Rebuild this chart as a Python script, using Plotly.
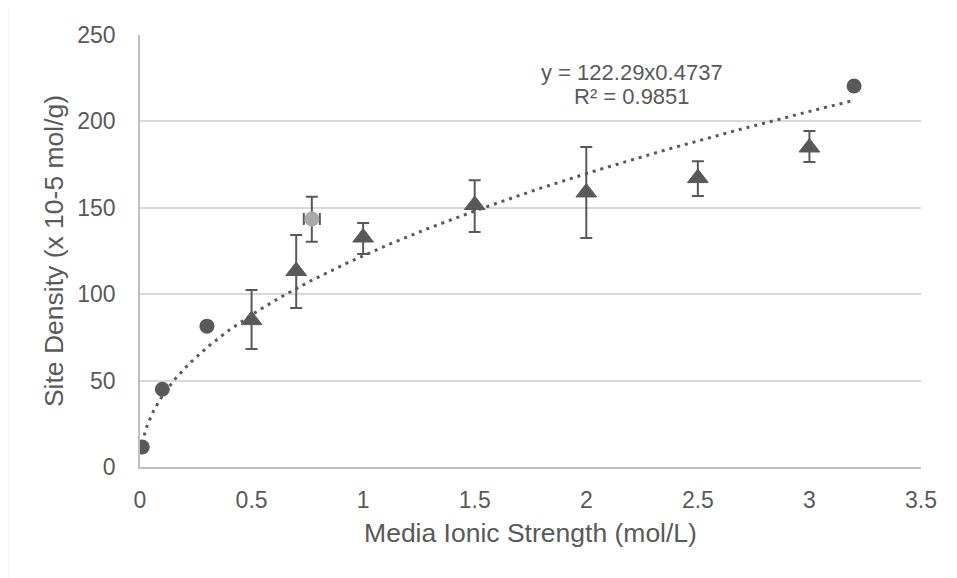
import numpy as np
import plotly.graph_objects as go

# Circle series (single measurements)
circ_x = [0.01, 0.1, 0.3, 3.2]
circ_y = [11.6, 45, 81.5, 220.5]

# Light grey point with x/y error bars
grey_x = [0.77]
grey_y = [143.5]
grey_y_hi = [156.4]
grey_y_lo = [130.4]
grey_xerr = [0.036]

# Triangle series with asymmetric error bars
tri_x = [0.5, 0.7, 1.0, 1.5, 2.0, 2.5, 3.0]
tri_y = [85, 113.4, 132.8, 151.6, 158.9, 167.2, 184.9]
tri_hi = [102.4, 134.3, 141.2, 166, 185.2, 177, 194.4]
tri_lo = [68.3, 92, 123.3, 136, 132.5, 156.8, 176.5]

# Power trendline coefficients (as printed on the chart)
fit_a = 122.29
fit_b = 0.4737
fit_r2 = 0.9851
fit_xmin, fit_xmax = 0.01, 3.2

dark = "#595959"
txt = "#595959"

# page geometry (browser adds 8px body margin)
OFF = 8
PL, PR, PT, PB = 139.5, 921, 35, 467
W, H = 957 - OFF, 578 - OFF

def px_x(p):
    return (p - PL) / (PR - PL)

def px_y(p):
    return (PB - p) / (PB - PT)

fig = go.Figure()

tx = np.linspace(fit_xmin, fit_xmax, 400)
fig.add_trace(go.Scatter(x=tx, y=fit_a * tx ** fit_b, mode="lines",
                         line=dict(color=dark, width=3, dash="3px,5px"),
                         hoverinfo="skip", showlegend=False))

fig.add_trace(go.Scatter(
    x=tri_x, y=tri_y, mode="markers",
    marker=dict(symbol="triangle-up", size=18, color=dark,
                line=dict(color=dark, width=1)),
    error_y=dict(type="data", symmetric=False,
                 array=[h - y for h, y in zip(tri_hi, tri_y)],
                 arrayminus=[y - l for l, y in zip(tri_lo, tri_y)],
                 color=dark, thickness=2, width=6),
    showlegend=False))

fig.add_trace(go.Scatter(
    x=grey_x, y=grey_y, mode="markers",
    marker=dict(symbol="circle", size=15, color="#aaaaaa"),
    error_y=dict(type="data", symmetric=False,
                 array=[h - y for h, y in zip(grey_y_hi, grey_y)],
                 arrayminus=[y - l for l, y in zip(grey_y_lo, grey_y)],
                 color=dark, thickness=2, width=6),
    error_x=dict(type="data", array=grey_xerr, color=dark, thickness=2, width=6),
    showlegend=False))

fig.add_trace(go.Scatter(
    x=circ_x, y=circ_y, mode="markers",
    marker=dict(symbol="circle", size=15, color=dark),
    showlegend=False))

fig.add_annotation(x=px_x(631.5), y=px_y(72), xref="paper", yref="paper",
                   showarrow=False, text=f"y = {fit_a}x{fit_b}", borderpad=0,
                   font=dict(size=22, color=txt), xanchor="center", yanchor="middle")
fig.add_annotation(x=px_x(631.5), y=px_y(97), xref="paper", yref="paper",
                   showarrow=False, text=f"R² = {fit_r2}", borderpad=0,
                   font=dict(size=22, color=txt), xanchor="center", yanchor="middle")

fig.add_shape(type="rect", xref="paper", yref="paper",
              x0=px_x(7), x1=px_x(1000), y0=px_y(640), y1=px_y(5),
              line=dict(color="#d9d9d9", width=1.3), layer="below")

fig.update_layout(
    width=W, height=H,
    margin=dict(l=PL - OFF, r=W - (PR - OFF), t=PT - OFF, b=H - (PB - OFF)),
    paper_bgcolor="white", plot_bgcolor="white",
    font=dict(family="Liberation Sans, Arial, sans-serif", size=23, color=txt),
    xaxis=dict(range=[0, 3.5], dtick=0.5, showgrid=False, zeroline=False,
               showline=True, linecolor="#bfbfbf", linewidth=1.5,
               ticks="", ticklen=0, ticklabelstandoff=12,
               title=dict(text="Media Ionic Strength (mol/L)",
                          font=dict(size=26.5, color=txt), standoff=11)),
    yaxis=dict(range=[0, 250], dtick=50, showgrid=True, gridcolor="#d9d9d9", gridwidth=1.5,
               zeroline=False, showline=True, linecolor="#bfbfbf", linewidth=1.5,
               ticks="", ticklen=0, ticklabelstandoff=18,
               title=dict(text="Site Density (x 10-5 mol/g)",
                          font=dict(size=26.5, color=txt), standoff=6)),
)

fig.write_html("out.html")
